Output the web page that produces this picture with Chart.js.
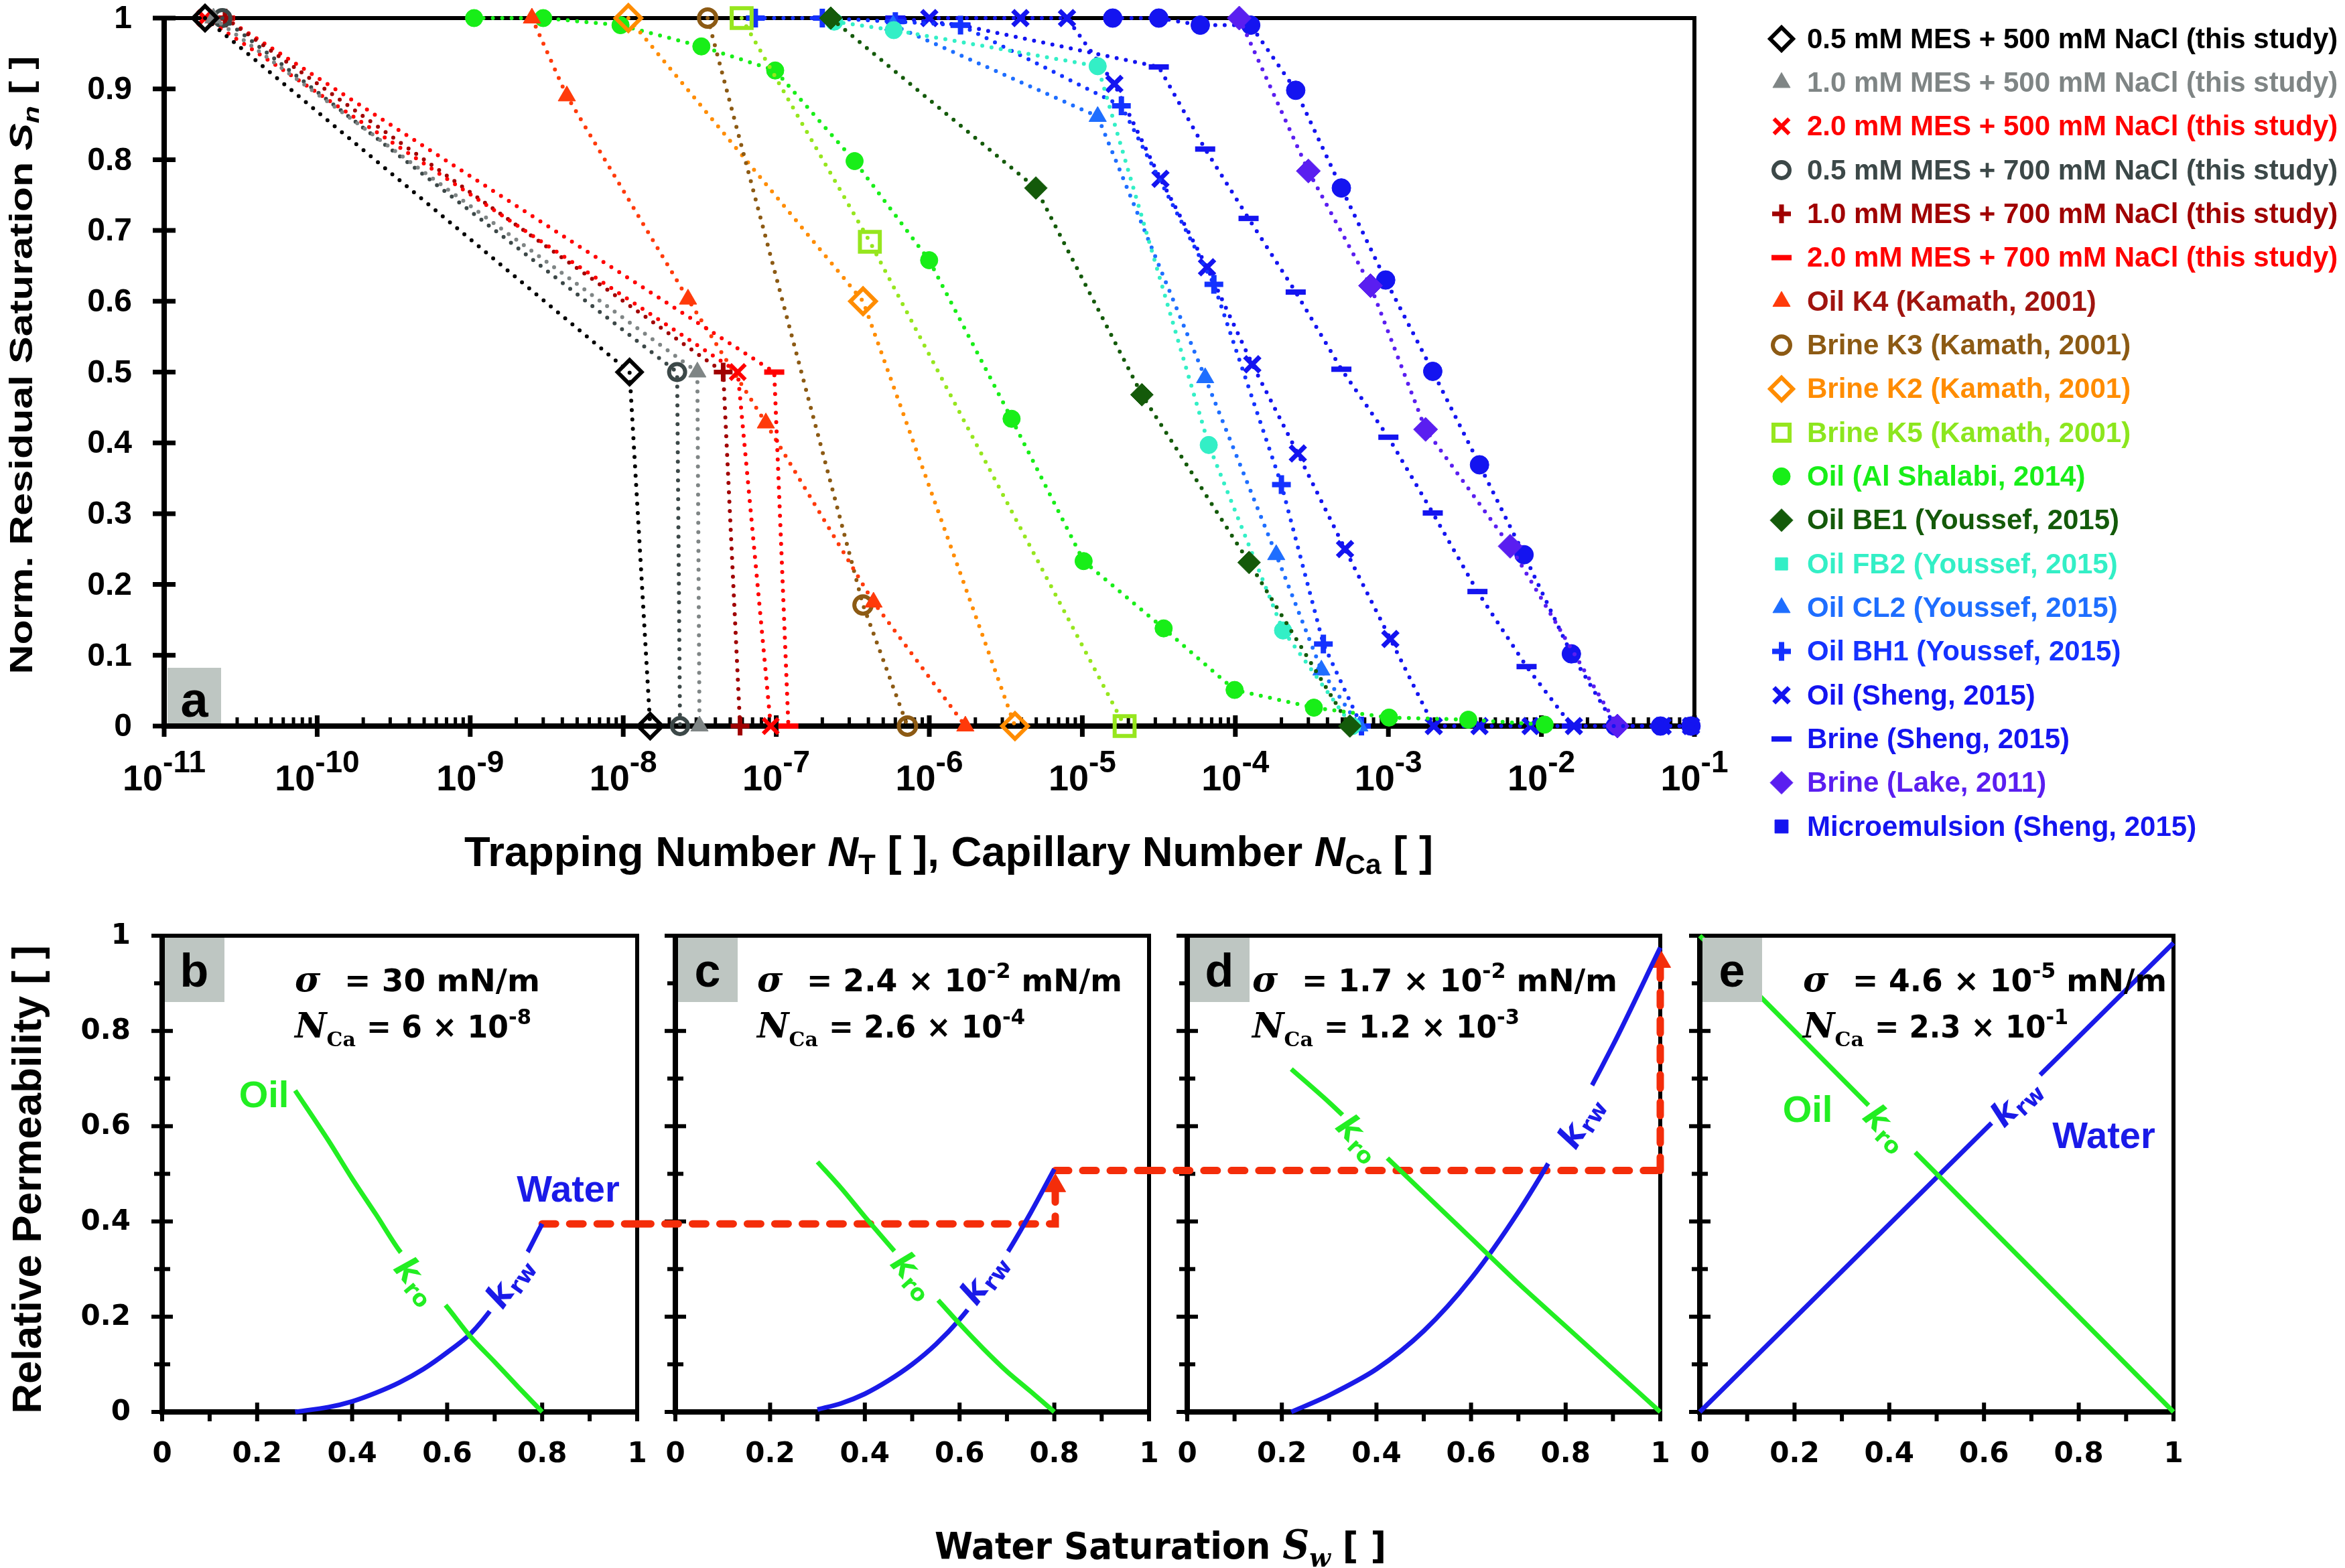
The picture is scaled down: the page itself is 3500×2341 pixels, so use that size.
<!DOCTYPE html>
<html>
<head>
<meta charset="utf-8">
<title>Residual saturation and relative permeability</title>
<script src="https://cdn.jsdelivr.net/npm/chart.js@4.4.1/dist/chart.umd.min.js"></script>
<style>
  html, body { margin: 0; padding: 0; background: #fff; }
  body { width: 3500px; height: 2341px; position: relative; overflow: hidden; }
  canvas { position: absolute; left: 0; }
</style>
</head>
<body>
<canvas id="chartA" width="3500" height="1340" style="top:0"></canvas>
<canvas id="chartB" width="3500" height="1001" style="top:1340px"></canvas>
<canvas id="chartC" width="3500" height="1001" style="top:1340px"></canvas>
<canvas id="chartD" width="3500" height="1001" style="top:1340px"></canvas>
<canvas id="chartE" width="3500" height="1001" style="top:1340px"></canvas>
<script>
// ---------- panel a : normalised residual saturation vs N_T / N_Ca ----------
const ntMes05Na500 = [1.85e-11, 1.1e-8, 1.5e-8];
const snMes05Na500 = [1, 0.5, 0];
const ntMes10Na500 = [2.1e-11, 3.05e-8, 3.15e-8];
const snMes10Na500 = [1, 0.5, 0];
const ntMes20Na500 = [1.85e-11, 5.6e-8, 9.2e-8];
const snMes20Na500 = [1, 0.5, 0];
const ntMes05Na700 = [2.4e-11, 2.25e-8, 2.35e-8];
const snMes05Na700 = [1, 0.5, 0];
const ntMes10Na700 = [2.5e-11, 4.5e-8, 5.8e-8];
const snMes10Na700 = [1, 0.5, 0];
const ntMes20Na700 = [2.5e-11, 9.7e-8, 1.2e-7];
const snMes20Na700 = [1, 0.5, 0];
const ntOilK4 = [2.53e-9, 4.28e-9, 2.65e-8, 8.55e-8, 4.32e-7, 1.72e-6];
const snOilK4 = [1, 0.89, 0.603, 0.428, 0.175, 0];
const ntBrineK3 = [3.56e-8, 3.69e-7, 7.2e-7];
const snBrineK3 = [1, 0.171, 0];
const ntBrineK2 = [1.08e-8, 3.69e-7, 3.63e-6];
const snBrineK2 = [1, 0.6, 0];
const ntBrineK5 = [5.94e-8, 4.09e-7, 1.89e-5];
const snBrineK5 = [1, 0.684, 0];
const ncOilShalabi = [1.06e-9, 3.0e-9, 9.6e-9, 3.24e-8, 9.84e-8, 3.25e-7, 9.98e-7, 3.45e-6, 1.02e-5, 3.4e-5, 9.89e-5, 3.26e-4, 1.01e-3, 3.33e-3, 1.05e-2];
const snOilShalabi = [1, 1, 0.99, 0.96, 0.926, 0.798, 0.658, 0.434, 0.233, 0.138, 0.051, 0.026, 0.012, 0.009, 0.002];
const ncOilBE1 = [2.27e-7, 4.97e-6, 2.45e-5, 1.23e-4, 5.6e-4];
const snOilBE1 = [1, 0.76, 0.468, 0.231, 0];
const ncOilFB2 = [2.39e-7, 5.86e-7, 1.26e-5, 6.7e-5, 2.05e-4, 5.8e-4];
const snOilFB2 = [0.995, 0.983, 0.932, 0.397, 0.135, 0];
const ncOilCL2 = [5.8e-7, 1.26e-5, 6.35e-5, 1.85e-4, 3.65e-4, 6.46e-4];
const snOilCL2 = [0.99, 0.861, 0.492, 0.242, 0.079, 0];
const ncOilBH1 = [7.3e-8, 2.0e-7, 6.0e-7, 1.6e-6, 1.8e-5, 7.24e-5, 2.0e-4, 3.76e-4, 6.67e-4];
const snOilBH1 = [1, 1, 0.995, 0.99, 0.876, 0.624, 0.341, 0.116, 0];
const ncOilSheng = [1.0e-6, 3.94e-6, 7.94e-6, 1.62e-5, 3.24e-5, 6.53e-5, 1.29e-4, 2.56e-4, 5.21e-4, 1.03e-3, 1.98e-3, 3.94e-3, 8.5e-3, 1.63e-2, 6.2e-2, 9.5e-2];
const snOilSheng = [1, 1, 1, 0.907, 0.773, 0.648, 0.511, 0.385, 0.25, 0.123, 0, 0, 0, 0, 0, 0];
const ncBrineSheng = [6.0e-7, 1.6e-6, 3.16e-5, 6.35e-5, 1.22e-4, 2.48e-4, 4.93e-4, 1.0e-3, 1.95e-3, 3.82e-3, 8.0e-3, 1.58e-2];
const snBrineSheng = [1, 0.99, 0.931, 0.815, 0.717, 0.613, 0.504, 0.408, 0.301, 0.19, 0.084, 0];
const ncBrineLake = [1.06e-4, 3.0e-4, 7.64e-4, 1.75e-3, 6.25e-3, 3.14e-2];
const snBrineLake = [1, 0.784, 0.622, 0.419, 0.254, 0];
const ncMicroSheng = [1.58e-5, 3.16e-5, 5.9e-5, 1.26e-4, 2.48e-4, 4.93e-4, 9.6e-4, 1.95e-3, 3.94e-3, 7.7e-3, 1.57e-2, 3.04e-2, 6.0e-2, 9.5e-2];
const snMicroSheng = [1, 1, 0.99, 0.99, 0.898, 0.76, 0.63, 0.501, 0.369, 0.242, 0.102, 0, 0, 0];

const seriesNames = [
  '0.5 mM MES + 500 mM NaCl (this study)',
  '1.0 mM MES + 500 mM NaCl (this study)',
  '2.0 mM MES + 500 mM NaCl (this study)',
  '0.5 mM MES + 700 mM NaCl (this study)',
  '1.0 mM MES + 700 mM NaCl (this study)',
  '2.0 mM MES + 700 mM NaCl (this study)',
  'Oil K4 (Kamath, 2001)',
  'Brine K3 (Kamath, 2001)',
  'Brine K2 (Kamath, 2001)',
  'Brine K5 (Kamath, 2001)',
  'Oil (Al Shalabi, 2014)',
  'Oil BE1 (Youssef, 2015)',
  'Oil FB2 (Youssef, 2015)',
  'Oil CL2 (Youssef, 2015)',
  'Oil BH1 (Youssef, 2015)',
  'Oil (Sheng, 2015)',
  'Brine (Sheng, 2015)',
  'Brine (Lake, 2011)',
  'Microemulsion (Sheng, 2015)'
];
const seriesX = [ntMes05Na500, ntMes10Na500, ntMes20Na500, ntMes05Na700, ntMes10Na700, ntMes20Na700,
  ntOilK4, ntBrineK3, ntBrineK2, ntBrineK5, ncOilShalabi, ncOilBE1, ncOilFB2, ncOilCL2, ncOilBH1,
  ncOilSheng, ncBrineSheng, ncBrineLake, ncMicroSheng];
const seriesY = [snMes05Na500, snMes10Na500, snMes20Na500, snMes05Na700, snMes10Na700, snMes20Na700,
  snOilK4, snBrineK3, snBrineK2, snBrineK5, snOilShalabi, snOilBE1, snOilFB2, snOilCL2, snOilBH1,
  snOilSheng, snBrineSheng, snBrineLake, snMicroSheng];

const satTickLabels = ['0', '0.1', '0.2', '0.3', '0.4', '0.5', '0.6', '0.7', '0.8', '0.9', '1'];
const decadeExps = [-11, -10, -9, -8, -7, -6, -5, -4, -3, -2, -1];

// ---------- panels b-e : relative permeability vs water saturation ----------
const swB = [0.28, 0.35, 0.40, 0.45, 0.50, 0.55, 0.60, 0.65, 0.70, 0.75, 0.80];
const kroB = [0.675, 0.57, 0.49, 0.415, 0.338, 0.278, 0.22, 0.157, 0.105, 0.052, 0.0];
const krwB = [0.0, 0.01, 0.022, 0.04, 0.062, 0.09, 0.125, 0.165, 0.225, 0.30, 0.395];
const swC = [0.30, 0.35, 0.40, 0.45, 0.50, 0.55, 0.60, 0.65, 0.70, 0.75, 0.80];
const kroC = [0.525, 0.47, 0.41, 0.352, 0.295, 0.24, 0.185, 0.133, 0.085, 0.043, 0.0];
const krwC = [0.005, 0.018, 0.038, 0.066, 0.10, 0.142, 0.194, 0.258, 0.333, 0.418, 0.51];
const swD = [0.22, 0.30, 0.40, 0.50, 0.60, 0.70, 0.80, 0.90, 1.00];
const kroD = [0.72, 0.65, 0.555, 0.46, 0.365, 0.27, 0.18, 0.09, 0.0];
const krwD = [0.0, 0.035, 0.09, 0.17, 0.28, 0.42, 0.585, 0.77, 0.975];
const swE = [0, 1];
const kroE = [1, 0];
const krwE = [0, 0.985];

// red dashed links between the panels
const linkBsw = [0.8, 1.0];
const linkBkr = [0.395, 0.395];
const linkC1sw = [-0.08, 0.802, 0.802];
const linkC1kr = [0.395, 0.395, 0.475];
const linkC2sw = [0.802, 1.0];
const linkC2kr = [0.507, 0.507];
const linkD1sw = [-0.081, 1.0];
const linkD1kr = [0.507, 0.507];
const linkD2sw = [1.0, 1.0];
const linkD2kr = [0.507, 0.946];

const swTickLabels = ['0', '0.2', '0.4', '0.6', '0.8', '1'];

// ---------- styles ----------
const SANS = '"Liberation Sans", Arial, Helvetica, sans-serif';
const WIDE = '"DejaVu Sans", Verdana, sans-serif';
const SERIF = '"DejaVu Serif", "Liberation Serif", serif';
const OFF = 1340;      // page y of the lower canvases
const GREEN = '#22ee22';
const BLUE = '#1a1ae8';
const RED = '#f42d0a';

const seriesColors = ['#000000', '#7f8585', '#ff0000', '#3c4848', '#a00000', '#ff0000', '#ff3a0a',
  '#8c5a14', '#ff8c00', '#96e61e', '#18ee18', '#145a0a', '#33efc6', '#1e6eff', '#1432ff',
  '#1414f0', '#1414f0', '#5a1ef0', '#1414f0'];
const labelColors = ['#000000', '#7f8585', '#ff0000', '#3c4848', '#a00000', '#ff0000', '#a0140f',
  '#8c5a14', '#ff8c00', '#8ce61e', '#18ee18', '#145a0a', '#33efc6', '#1e6eff', '#1432ff',
  '#1414f0', '#1414f0', '#5a1ef0', '#1414f0'];
const pointStyles = ['rectRot', 'triangle', 'crossRot', 'circle', 'cross', 'line', 'triangle', 'circle',
  'rectRot', 'rect', 'circle', 'rectRot', 'circle', 'triangle', 'cross', 'crossRot', 'line', 'rectRot', 'circle'];
const legendStyles = ['rectRot', 'triangle', 'crossRot', 'circle', 'cross', 'line', 'triangle', 'circle',
  'rectRot', 'rect', 'circle', 'rectRot', 'rect', 'triangle', 'cross', 'crossRot', 'line', 'rectRot', 'rect'];
const filled = [false, true, false, false, false, false, true, false, false, false, true, true, true, true,
  false, false, false, true, true];
const pointSizes = [18, 15, 16, 12, 14, 15, 15, 13, 19, 21, 13, 17, 13, 15, 14, 16, 15, 18, 14];
const strokeW = [6, 1, 6, 6, 7, 8, 1, 6, 6, 6, 1, 1, 1, 1, 8, 7, 8, 1, 1];

function textWidth(ctx, segs) {
  let w = 0;
  segs.forEach(s => { ctx.font = s.f; w += ctx.measureText(s.t).width; });
  return w;
}
function rich(ctx, segs, x, y, o = {}) {
  ctx.save();
  ctx.translate(x, y);
  if (o.rot) ctx.rotate(o.rot);
  const w = textWidth(ctx, segs);
  if (o.width) ctx.scale(o.width / w, 1);
  let cx = o.align === 'left' ? 0 : (o.align === 'right' ? -w : -w / 2);
  ctx.textAlign = 'left';
  ctx.textBaseline = o.baseline || 'alphabetic';
  segs.forEach(s => {
    ctx.font = s.f;
    ctx.fillStyle = s.c || o.color || '#000';
    ctx.fillText(s.t, cx, s.dy || 0);
    cx += ctx.measureText(s.t).width;
  });
  ctx.restore();
}
function seg(ctx, x1, y1, x2, y2) {
  ctx.beginPath(); ctx.moveTo(x1, y1); ctx.lineTo(x2, y2); ctx.stroke();
}
function marker(ctx, style, r, x, y, color, solid, bw) {
  ctx.save();
  ctx.fillStyle = solid ? color : 'rgba(0,0,0,0)';
  ctx.strokeStyle = color;
  ctx.lineWidth = bw;
  Chart.helpers.drawPoint(ctx, { pointStyle: style, radius: r, borderWidth: bw, rotation: 0 }, x, y);
  ctx.restore();
}

// ---------- panel a ----------
const panelA = {
  id: 'panelA',
  beforeDatasetsDraw(chart) {
    const { ctx, chartArea: a, scales: { x, y } } = chart;
    ctx.save();
    ctx.strokeStyle = '#000';
    ctx.lineWidth = 6;
    ctx.beginPath(); ctx.moveTo(a.left, a.top); ctx.lineTo(a.right, a.top); ctx.lineTo(a.right, a.bottom); ctx.stroke();
    ctx.lineWidth = 8;
    ctx.beginPath(); ctx.moveTo(a.left, a.top - 3); ctx.lineTo(a.left, a.bottom); ctx.lineTo(a.right + 3, a.bottom); ctx.stroke();
    ctx.lineWidth = 7;
    satTickLabels.forEach(t => { const py = y.getPixelForValue(+t); seg(ctx, a.left - 17, py, a.left + 17, py); });
    decadeExps.forEach((e, i) => {
      const px = x.getPixelForValue(Math.pow(10, e));
      ctx.lineWidth = 7;
      seg(ctx, px, a.bottom - 16, px, a.bottom + 16);
      if (i < decadeExps.length - 1) {
        ctx.lineWidth = 5;
        for (let k = 2; k <= 9; k++) {
          const mx = x.getPixelForValue(k * Math.pow(10, e));
          seg(ctx, mx, a.bottom, mx, a.bottom - 13);
        }
      }
    });
    ctx.fillStyle = '#000';
    ctx.font = `bold 48px ${SANS}`;
    ctx.textAlign = 'right';
    ctx.textBaseline = 'middle';
    satTickLabels.forEach(t => ctx.fillText(t, 197, y.getPixelForValue(+t) + 2));
    decadeExps.forEach(e => {
      const px = x.getPixelForValue(Math.pow(10, e));
      rich(ctx, [{ t: '10', f: `bold 54px ${SANS}` }, { t: String(e), f: `bold 46px ${SANS}`, dy: -27 }], px, 1180);
    });
    ctx.restore();
  },
  afterDatasetsDraw(chart) {
    const { ctx, chartArea: a } = chart;
    ctx.save();
    ctx.fillStyle = '#bec6c2';
    ctx.fillRect(a.left + 5, a.bottom - 87, 80, 83);
    ctx.fillStyle = '#000';
    ctx.font = `bold 74px ${SANS}`;
    ctx.textAlign = 'center';
    ctx.textBaseline = 'alphabetic';
    ctx.fillText('a', a.left + 45, a.bottom - 14);
    ctx.restore();
  },
  afterDraw(chart) {
    const ctx = chart.ctx;
    ctx.save();
    // legend
    seriesNames.forEach((name, i) => {
      const ly = 58 + i * 65.33;
      marker(ctx, legendStyles[i], pointSizes[i] > 17 ? 17 : pointSizes[i], 2659, ly, seriesColors[i], filled[i], strokeW[i]);
      ctx.fillStyle = labelColors[i];
      ctx.font = `bold 42px ${SANS}`;
      ctx.textAlign = 'left';
      ctx.textBaseline = 'middle';
      ctx.fillText(name, 2697, ly + 2);
    });
    // axis titles
    rich(ctx, [
      { t: 'Trapping Number ', f: `bold 63px ${SANS}` },
      { t: 'N', f: `italic bold 63px ${SANS}` },
      { t: 'T', f: `bold 42px ${SANS}`, dy: 12 },
      { t: ' [ ], Capillary Number ', f: `bold 63px ${SANS}` },
      { t: 'N', f: `italic bold 63px ${SANS}` },
      { t: 'Ca', f: `bold 42px ${SANS}`, dy: 12 },
      { t: ' [ ]', f: `bold 63px ${SANS}` }
    ], 1416, 1293, { width: 1446 });
    rich(ctx, [
      { t: 'Norm. Residual Saturation ', f: `bold 48px ${SANS}` },
      { t: 'S', f: `italic bold 48px ${SANS}` },
      { t: 'n', f: `italic bold 34px ${SANS}`, dy: 10 },
      { t: ' [ ]', f: `bold 48px ${SANS}` }
    ], 48, 545, { rot: -Math.PI / 2, width: 923 });
    ctx.restore();
  }
};

new Chart(document.getElementById('chartA'), {
  type: 'scatter',
  data: {
    datasets: seriesNames.map((name, i) => ({
      label: name,
      data: seriesX[i].map((v, j) => ({ x: v, y: seriesY[i][j] })),
      showLine: true,
      borderColor: seriesColors[i],
      borderWidth: 6,
      borderDash: [0, 14],
      borderCapStyle: 'round',
      tension: 0,
      pointStyle: pointStyles[i],
      pointRadius: pointSizes[i],
      pointBorderWidth: strokeW[i],
      pointBorderColor: seriesColors[i],
      pointBackgroundColor: filled[i] ? seriesColors[i] : 'rgba(0,0,0,0)',
      clip: false
    }))
  },
  options: {
    responsive: false,
    animation: false,
    events: [],
    layout: { padding: { left: 0, right: 971, top: 22, bottom: 0 } },
    plugins: { legend: { display: false }, tooltip: { enabled: false } },
    scales: {
      x: {
        type: 'logarithmic', min: 1e-11, max: 1e-1,
        ticks: { display: false }, grid: { display: false }, border: { display: false },
        afterFit: s => { s.height = 256; }
      },
      y: {
        type: 'linear', min: 0, max: 1,
        ticks: { display: false }, grid: { display: false }, border: { display: false },
        afterFit: s => { s.width = 245; }
      }
    }
  },
  plugins: [panelA]
});

// ---------- panels b-e ----------
function pts(xs, ys) { return xs.map((v, j) => ({ x: v, y: ys[j] })); }
function curve(xs, ys, color, tension) {
  return { data: pts(xs, ys), showLine: true, borderColor: color, borderWidth: 7, pointRadius: 0,
    tension: tension, clip: false };
}
function link(xs, ys, head) {
  return { data: pts(xs, ys), showLine: true, borderColor: RED, borderWidth: 11, borderDash: [20, 21],
    borderCapStyle: 'round', tension: 0, clip: false,
    pointStyle: 'triangle', pointRadius: xs.map((v, j) => (head && j === xs.length - 1 ? 18 : 0)),
    pointBackgroundColor: RED, pointBorderColor: RED, pointBorderWidth: 1 };
}

const W = `bold 46px ${WIDE}`;
const SUP = `bold 32px ${WIDE}`;
const panels = [
  { id: 'chartB', left: 242, right: 951, letter: 'b', yLabels: true, x0: 440,
    sig: [{ t: '= 30 mN/m', f: W }], sigW: 292,
    nca: [{ t: '= 6 × 10', f: W }, { t: '-8', f: SUP, dy: -20 }], ncaW: 246,
    k: [{ sub: 'ro', c: GREEN, gx: 633, gy: 1908, tx: 619, ty: 1914, ang: 50, len: 103 },
        { sub: 'rw', c: BLUE, gx: 760, gy: 1914, tx: 763, ty: 1916, ang: -54.6, len: 105 }],
    phase: [['Oil', GREEN, 394, 1638], ['Water', BLUE, 848, 1779]],
    sets: [curve(swB, kroB, GREEN, 0.3), curve(swB, krwB, BLUE, 0.3), link(linkBsw, linkBkr, false)] },
  { id: 'chartC', left: 1008, right: 1715, letter: 'c', x0: 1130,
    sig: [{ t: '= 2.4 × 10', f: W }, { t: '-2', f: SUP, dy: -20 }, { t: ' mN/m', f: W }], sigW: 471,
    nca: [{ t: '= 2.6 × 10', f: W }, { t: '-4', f: SUP, dy: -20 }], ncaW: 293,
    k: [{ sub: 'ro', c: GREEN, gx: 1367, gy: 1905, tx: 1361, ty: 1906, ang: 48, len: 98 },
        { sub: 'rw', c: BLUE, gx: 1473, gy: 1911, tx: 1471, ty: 1911, ang: -53.6, len: 106 }],
    phase: [], xTitle: true,
    sets: [curve(swC, kroC, GREEN, 0.3), curve(swC, krwC, BLUE, 0.3),
      link(linkC1sw, linkC1kr, true), link(linkC2sw, linkC2kr, false)] },
  { id: 'chartD', left: 1772, right: 2478, letter: 'd', x0: 1869,
    sig: [{ t: '= 1.7 × 10', f: W }, { t: '-2', f: SUP, dy: -20 }, { t: ' mN/m', f: W }], sigW: 471,
    nca: [{ t: '= 1.2 × 10', f: W }, { t: '-3', f: SUP, dy: -20 }], ncaW: 292,
    k: [{ sub: 'ro', c: GREEN, gx: 2035, gy: 1699, tx: 2026, ty: 1701, ang: 45.4, len: 93 },
        { sub: 'rw', c: BLUE, gx: 2344, gy: 1679, tx: 2362, ty: 1677, ang: -58.2, len: 134 }],
    phase: [],
    sets: [curve(swD, kroD, GREEN, 0.3), curve(swD, krwD, BLUE, 0.3),
      link(linkD1sw, linkD1kr, false), link(linkD2sw, linkD2kr, true)] },
  { id: 'chartE', left: 2537, right: 3244, letter: 'e', x0: 2691,
    sig: [{ t: '= 4.6 × 10', f: W }, { t: '-5', f: SUP, dy: -20 }, { t: ' mN/m', f: W }], sigW: 469,
    nca: [{ t: '= 2.3 × 10', f: W }, { t: '-1', f: SUP, dy: -20 }], ncaW: 289,
    k: [{ sub: 'ro', c: GREEN, gx: 2821, gy: 1688, tx: 2813, ty: 1686, ang: 44.7, len: 99 },
        { sub: 'rw', c: BLUE, gx: 3008, gy: 1640, tx: 3011, ty: 1648, ang: -43.9, len: 102 }],
    phase: [['Oil', GREEN, 2698, 1660], ['Water', BLUE, 3140, 1699]],
    sets: [curve(swE, kroE, GREEN, 0), curve(swE, krwE, BLUE, 0)] }
];

function decor(p) {
  return {
    id: 'decor' + p.letter,
    beforeDatasetsDraw(chart) {
      const { ctx, chartArea: a, scales: { x, y } } = chart;
      ctx.save();
      ctx.strokeStyle = '#000';
      ctx.lineWidth = 6;
      ctx.beginPath(); ctx.moveTo(a.left, a.top); ctx.lineTo(a.right, a.top); ctx.lineTo(a.right, a.bottom); ctx.stroke();
      ctx.lineWidth = 8;
      ctx.beginPath(); ctx.moveTo(a.left, a.top - 3); ctx.lineTo(a.left, a.bottom); ctx.lineTo(a.right + 3, a.bottom); ctx.stroke();
      ctx.lineWidth = 6;
      for (let i = 0; i <= 10; i++) {
        const v = i / 10, major = i % 2 === 0;
        const py = y.getPixelForValue(v), px = x.getPixelForValue(v);
        seg(ctx, a.left - (major ? 16 : 12), py, a.left + (major ? 16 : 12), py);
        if (major) seg(ctx, px, a.bottom - 14, px, a.bottom + 14);
        else seg(ctx, px, a.bottom, px, a.bottom + 14);
      }
      ctx.fillStyle = '#000';
      ctx.font = `bold 42px ${WIDE}`;
      ctx.textBaseline = 'middle';
      ctx.textAlign = 'center';
      swTickLabels.forEach(t => ctx.fillText(t, x.getPixelForValue(+t), 2172 - OFF));
      if (p.yLabels) {
        ctx.textAlign = 'right';
        swTickLabels.forEach(t => ctx.fillText(t, 195, y.getPixelForValue(+t) + 1));
      }
      ctx.restore();
    },
    afterDatasetsDraw(chart) {
      const { ctx, chartArea: a } = chart;
      ctx.save();
      // panel letter
      ctx.fillStyle = '#bec6c2';
      ctx.fillRect(a.left + 4, a.top + 3, 89, 96);
      ctx.fillStyle = '#000';
      ctx.font = `bold 70px ${SANS}`;
      ctx.textAlign = 'center';
      ctx.textBaseline = 'alphabetic';
      ctx.fillText(p.letter, a.left + 48, a.top + 76);
      ctx.translate(0, -OFF);
      // gaps + k labels
      p.k.forEach(k => {
        ctx.save();
        ctx.translate(k.gx, k.gy);
        ctx.rotate(k.ang * Math.PI / 180);
        ctx.fillStyle = '#fff';
        ctx.fillRect(-k.len / 2, -12, k.len, 24);
        ctx.restore();
        rich(ctx, [{ t: 'k', f: `italic bold 50px ${WIDE}` }, { t: k.sub, f: `bold 34px ${WIDE}`, dy: 12 }],
          k.tx, k.ty, { rot: k.ang * Math.PI / 180, baseline: 'middle', color: k.c });
      });
      // phase names
      p.phase.forEach(([t, c, px, py]) => {
        ctx.fillStyle = c;
        ctx.font = `bold 56px ${SANS}`;
        ctx.textAlign = 'center';
        ctx.textBaseline = 'middle';
        ctx.fillText(t, px, py);
      });
      // sigma and capillary number
      rich(ctx, [{ t: 'σ', f: `italic bold 52px ${SERIF}` }], p.x0, 1480, { align: 'left' });
      rich(ctx, p.sig, p.x0 + 74, 1480, { align: 'left', width: p.sigW });
      rich(ctx, [{ t: 'N', f: `italic bold 52px ${SERIF}` }, { t: 'Ca', f: `bold 30px ${SERIF}`, dy: 13 }],
        p.x0, 1549, { align: 'left' });
      rich(ctx, p.nca, p.x0 + 107, 1549, { align: 'left', width: p.ncaW });
      if (p.yLabels) {
        rich(ctx, [{ t: 'Relative Permeability [ ]', f: `bold 62px ${SANS}` }], 61, 1761, { rot: -Math.PI / 2 });
      }
      if (p.xTitle) {
        rich(ctx, [
          { t: 'Water Saturation ', f: `bold 56px ${WIDE}` },
          { t: 'S', f: `italic bold 60px ${SERIF}` },
          { t: 'w', f: `italic bold 40px ${SERIF}`, dy: 12 },
          { t: ' [ ]', f: `bold 56px ${WIDE}` }
        ], 1732, 2327, { width: 674 });
      }
      ctx.restore();
    }
  };
}

panels.forEach(p => {
  new Chart(document.getElementById(p.id), {
    type: 'scatter',
    data: { datasets: p.sets },
    options: {
      responsive: false,
      animation: false,
      events: [],
      layout: { padding: { left: p.left - 10, right: 3500 - p.right, top: 57, bottom: 0 } },
      plugins: { legend: { display: false }, tooltip: { enabled: false } },
      scales: {
        x: {
          type: 'linear', min: 0, max: 1,
          ticks: { display: false }, grid: { display: false }, border: { display: false },
          afterFit: s => { s.height = 233; }
        },
        y: {
          type: 'linear', min: 0, max: 1,
          ticks: { display: false }, grid: { display: false }, border: { display: false },
          afterFit: s => { s.width = 10; }
        }
      }
    },
    plugins: [decor(p)]
  });
});
</script>
</body>
</html>
